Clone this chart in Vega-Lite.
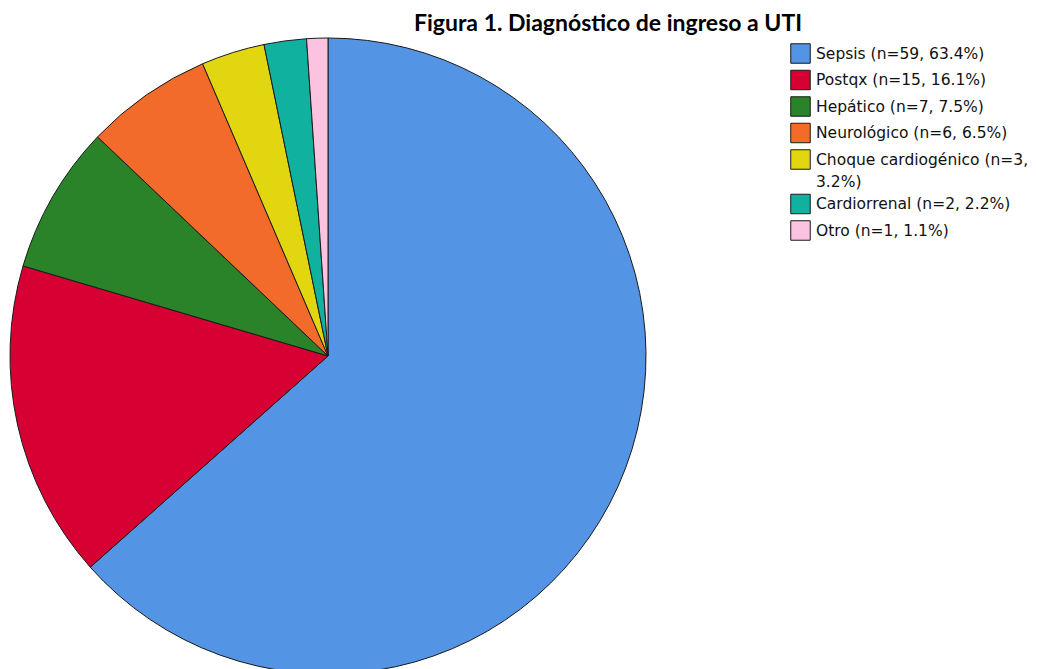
{
  "$schema": "https://vega.github.io/schema/vega-lite/v6.json",
  "autosize": {"type": "none"},
  "padding": {"left": 10, "top": 43, "right": 406, "bottom": 0},
  "width": 636,
  "height": 626,
  "background": "white",
  "title": {
    "text": "Figura 1. Diagnóstico de ingreso a UTI",
    "font": "Lato",
    "fontSize": 23,
    "fontWeight": "bold",
    "color": "#000000",
    "anchor": "middle",
    "dx": 280,
    "offset": 0
  },
  "data": {
    "values": [
      {"diagnostico": "Sepsis (n=59, 63.4%)", "n": 59},
      {"diagnostico": "Postqx (n=15, 16.1%)", "n": 15},
      {"diagnostico": "Hepático (n=7, 7.5%)", "n": 7},
      {"diagnostico": "Neurológico (n=6, 6.5%)", "n": 6},
      {"diagnostico": "Choque cardiogénico (n=3, 3.2%)", "n": 3},
      {"diagnostico": "Cardiorrenal (n=2, 2.2%)", "n": 2},
      {"diagnostico": "Otro (n=1, 1.1%)", "n": 1}
    ]
  },
  "mark": {"type": "arc", "outerRadius": 318, "stroke": "#1a1a1a", "strokeWidth": 1},
  "encoding": {
    "theta": {"field": "n", "type": "quantitative", "stack": true},
    "order": {"field": "n", "type": "quantitative", "sort": "descending"},
    "color": {
      "field": "diagnostico",
      "type": "nominal",
      "scale": {
        "domain": [
          "Sepsis (n=59, 63.4%)",
          "Postqx (n=15, 16.1%)",
          "Hepático (n=7, 7.5%)",
          "Neurológico (n=6, 6.5%)",
          "Choque cardiogénico (n=3, 3.2%)",
          "Cardiorrenal (n=2, 2.2%)",
          "Otro (n=1, 1.1%)"
        ],
        "range": ["#5394E4", "#D60032", "#2A8229", "#F26B2B", "#E2D611", "#10B29F", "#FBC3E0"]
      },
      "legend": {
        "title": null,
        "orient": "none",
        "legendX": 780,
        "legendY": 0,
        "padding": 0,
        "symbolType": "square",
        "symbolSize": 380,
        "symbolStrokeColor": "#1a1a1a",
        "symbolStrokeWidth": 1,
        "symbolOpacity": 1,
        "labelFont": "DejaVu Sans",
        "labelFontSize": 15.5,
        "labelColor": "#111111",
        "labelLimit": 400,
        "labelOffset": 5,
        "rowPadding": 1.5,
        "labelExpr": "datum.label == 'Choque cardiogénico (n=3, 3.2%)' ? ['Choque cardiogénico (n=3,', '3.2%)'] : datum.label",
        "encode": {
          "labels": {"update": {"lineHeight": {"value": 22}}}
        }
      }
    }
  },
  "config": {"view": {"stroke": null}}
}
